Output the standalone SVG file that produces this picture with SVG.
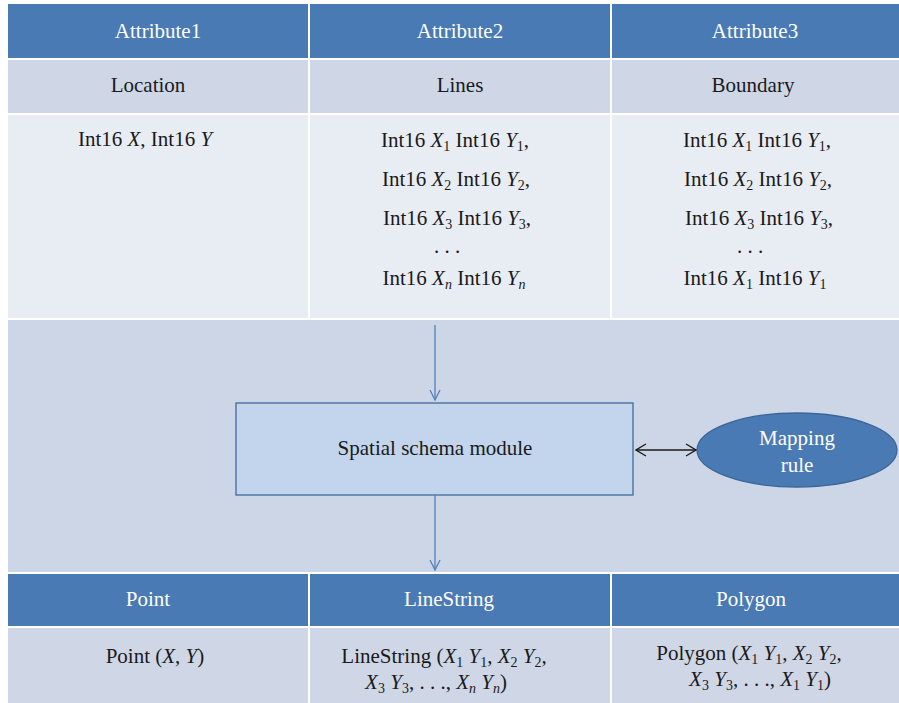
<svg xmlns="http://www.w3.org/2000/svg" width="899" height="703" viewBox="0 0 899 703" font-family="'Liberation Serif', 'Times New Roman', serif">
<style>
text{font-family:"Liberation Serif","Times New Roman",serif;font-size:21px;fill:#1a1a1a;text-anchor:middle}
.hd{fill:#4a7ab4}
.r2{fill:#cfd7e7}
.r3{fill:#e8ecf3}
.wt{fill:#ffffff}
.i{font-style:italic}
.s{font-size:14px}
.conn{stroke:#4f81bd;stroke-width:1.3;fill:none}
.blk{stroke:#1a1a1a;stroke-width:1.3;fill:none}
</style>
<defs>
<marker id="ab" viewBox="0 0 12 12" refX="11" refY="6" markerWidth="12" markerHeight="12" markerUnits="userSpaceOnUse" orient="auto-start-reverse">
<path d="M1,1 L11,6 L1,11" fill="none" stroke="#4f81bd" stroke-width="1.3"/>
</marker>
<marker id="ak" viewBox="0 0 12 14" refX="11" refY="7" markerWidth="12" markerHeight="14" markerUnits="userSpaceOnUse" orient="auto-start-reverse">
<path d="M1,1 L11,7 L1,13" fill="none" stroke="#1a1a1a" stroke-width="1.3"/>
</marker>
</defs>
<rect x="0" y="0" width="899" height="703" fill="#ffffff"/>
<rect x="8" y="320" width="891" height="252" fill="#cdd6e6"/>
<g id="top-table">
<rect class="hd" x="8" y="4" width="300" height="54"/>
<rect class="hd" x="310" y="4" width="300" height="54"/>
<rect class="hd" x="612" y="4" width="287" height="54"/>
<rect class="r2" x="8" y="60" width="300" height="53"/>
<rect class="r2" x="310" y="60" width="300" height="53"/>
<rect class="r2" x="612" y="60" width="287" height="53"/>
<rect class="r3" x="8" y="115" width="300" height="203"/>
<rect class="r3" x="310" y="115" width="300" height="203"/>
<rect class="r3" x="612" y="115" width="287" height="203"/>
<text class="wt" x="158" y="38">Attribute1</text>
<text class="wt" x="460" y="38">Attribute2</text>
<text class="wt" x="755" y="38">Attribute3</text>
<text x="148" y="92">Location</text>
<text x="460" y="92">Lines</text>
<text x="753" y="92">Boundary</text>
<text x="145" y="146">Int16 <tspan class="i">X</tspan>, Int16 <tspan class="i">Y</tspan></text>
<text x="455" y="147">Int16 <tspan class="i">X</tspan><tspan class="s" dy="4">1</tspan><tspan dy="-4"> Int16 </tspan><tspan class="i">Y</tspan><tspan class="s" dy="4">1</tspan><tspan dy="-4">,</tspan></text>
<text x="456" y="186">Int16 <tspan class="i">X</tspan><tspan class="s" dy="4">2</tspan><tspan dy="-4"> Int16 </tspan><tspan class="i">Y</tspan><tspan class="s" dy="4">2</tspan><tspan dy="-4">,</tspan></text>
<text x="457" y="225">Int16 <tspan class="i">X</tspan><tspan class="s" dy="4">3</tspan><tspan dy="-4"> Int16 </tspan><tspan class="i">Y</tspan><tspan class="s" dy="4">3</tspan><tspan dy="-4">,</tspan></text>
<text x="447" y="253">. . .</text>
<text x="454" y="285">Int16 <tspan class="i">X</tspan><tspan class="s i" dy="4">n</tspan><tspan dy="-4"> Int16 </tspan><tspan class="i">Y</tspan><tspan class="s i" dy="4">n</tspan></text>
<text x="757" y="147">Int16 <tspan class="i">X</tspan><tspan class="s" dy="4">1</tspan><tspan dy="-4"> Int16 </tspan><tspan class="i">Y</tspan><tspan class="s" dy="4">1</tspan><tspan dy="-4">,</tspan></text>
<text x="758" y="186">Int16 <tspan class="i">X</tspan><tspan class="s" dy="4">2</tspan><tspan dy="-4"> Int16 </tspan><tspan class="i">Y</tspan><tspan class="s" dy="4">2</tspan><tspan dy="-4">,</tspan></text>
<text x="759" y="225">Int16 <tspan class="i">X</tspan><tspan class="s" dy="4">3</tspan><tspan dy="-4"> Int16 </tspan><tspan class="i">Y</tspan><tspan class="s" dy="4">3</tspan><tspan dy="-4">,</tspan></text>
<text x="750" y="253">. . .</text>
<text x="755" y="285">Int16 <tspan class="i">X</tspan><tspan class="s" dy="4">1</tspan><tspan dy="-4"> Int16 </tspan><tspan class="i">Y</tspan><tspan class="s" dy="4">1</tspan></text>
</g>
<g id="spatial-schema-module">
<rect x="236" y="403" width="397" height="92" fill="#c2d5ec" stroke="#3f6a9b" stroke-width="1.3"/>
<text x="435" y="455">Spatial schema module</text>
</g>
<g id="mapping-rule">
<ellipse cx="797" cy="450" rx="100" ry="37" fill="#4a7ab4" stroke="#3a6698" stroke-width="1.3"/>
<text class="wt" x="797" y="445">Mapping</text>
<text class="wt" x="797" y="472">rule</text>
</g>
<g id="bottom-table">
<rect class="hd" x="8" y="574" width="300" height="52"/>
<rect class="hd" x="310" y="574" width="300" height="52"/>
<rect class="hd" x="612" y="574" width="287" height="52"/>
<rect class="r2" x="8" y="628" width="300" height="75"/>
<rect class="r2" x="310" y="628" width="300" height="75"/>
<rect class="r2" x="612" y="628" width="287" height="75"/>
<text class="wt" x="148" y="606">Point</text>
<text class="wt" x="449" y="606">LineString</text>
<text class="wt" x="751" y="606">Polygon</text>
<text x="155" y="663">Point (<tspan class="i">X</tspan>, <tspan class="i">Y</tspan>)</text>
<text x="444" y="663">LineString (<tspan class="i">X</tspan><tspan class="s" dy="4">1</tspan><tspan dy="-4"> </tspan><tspan class="i">Y</tspan><tspan class="s" dy="4">1</tspan><tspan dy="-4">, </tspan><tspan class="i">X</tspan><tspan class="s" dy="4">2</tspan><tspan dy="-4"> </tspan><tspan class="i">Y</tspan><tspan class="s" dy="4">2</tspan><tspan dy="-4">,</tspan></text>
<text x="436" y="689"><tspan class="i">X</tspan><tspan class="s" dy="4">3</tspan><tspan dy="-4"> </tspan><tspan class="i">Y</tspan><tspan class="s" dy="4">3</tspan><tspan dy="-4">, . . ., </tspan><tspan class="i">X</tspan><tspan class="s i" dy="4">n</tspan><tspan dy="-4"> </tspan><tspan class="i">Y</tspan><tspan class="s i" dy="4">n</tspan><tspan dy="-4">)</tspan></text>
<text x="749" y="660">Polygon (<tspan class="i">X</tspan><tspan class="s" dy="4">1</tspan><tspan dy="-4"> </tspan><tspan class="i">Y</tspan><tspan class="s" dy="4">1</tspan><tspan dy="-4">, </tspan><tspan class="i">X</tspan><tspan class="s" dy="4">2</tspan><tspan dy="-4"> </tspan><tspan class="i">Y</tspan><tspan class="s" dy="4">2</tspan><tspan dy="-4">,</tspan></text>
<text x="760" y="686"><tspan class="i">X</tspan><tspan class="s" dy="4">3</tspan><tspan dy="-4"> </tspan><tspan class="i">Y</tspan><tspan class="s" dy="4">3</tspan><tspan dy="-4">, . . ., </tspan><tspan class="i">X</tspan><tspan class="s" dy="4">1</tspan><tspan dy="-4"> </tspan><tspan class="i">Y</tspan><tspan class="s" dy="4">1</tspan><tspan dy="-4">)</tspan></text>
</g>
<g id="connectors">
<line class="conn" x1="435" y1="325" x2="435" y2="400" marker-end="url(#ab)"/>
<line class="conn" x1="435" y1="495" x2="435" y2="570" marker-end="url(#ab)"/>
<line class="blk" x1="636" y1="450" x2="696" y2="450" marker-start="url(#ak)" marker-end="url(#ak)"/>
</g>
</svg>
